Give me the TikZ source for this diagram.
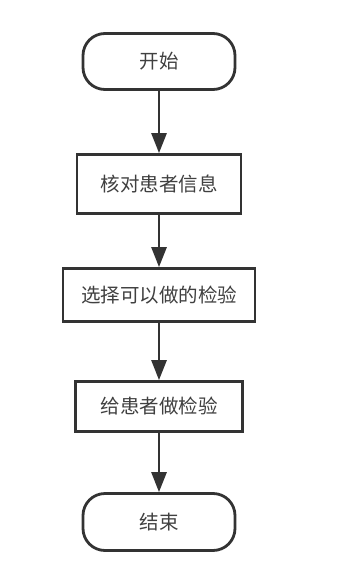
\documentclass[tikz,border=0pt]{standalone}
\usepackage{fontspec}
\newfontfamily\cjk{Noto Sans CJK SC}
\usetikzlibrary{arrows.meta}
\definecolor{lineC}{HTML}{333333}
\definecolor{txtC}{HTML}{404040}
\tikzset{
  base/.style={draw=lineC, line width=2.8pt, fill=white, inner sep=0pt, text=txtC, font=\cjk\fontsize{19.5}{21}\selectfont},
  term/.style={base, rounded corners=22pt},
  proc/.style={base},
  conn/.style={draw=lineC, line width=2.8pt, -{Triangle[length=20pt,width=15pt]}}
}
\begin{document}
\begin{tikzpicture}[x=1pt,y=-1pt]
\useasboundingbox (0,0) rectangle (352,580);
\node[term, minimum width=152pt, minimum height=56pt] (start) at (159,61.5) {开始};
\node[proc, minimum width=164pt, minimum height=59pt] (check) at (159,184) {核对患者信息};
\node[proc, minimum width=192pt, minimum height=53pt] (choose) at (159,295) {选择可以做的检验};
\node[proc, minimum width=167pt, minimum height=50pt] (do) at (159,406.5) {给患者做检验};
\node[term, minimum width=152pt, minimum height=57pt] (end) at (159,522) {结束};
\draw[conn] (start.south) -- (check.north);
\draw[conn] (check.south) -- (choose.north);
\draw[conn] (choose.south) -- (do.north);
\draw[conn] (do.south) -- (end.north);
\end{tikzpicture}
\end{document}
